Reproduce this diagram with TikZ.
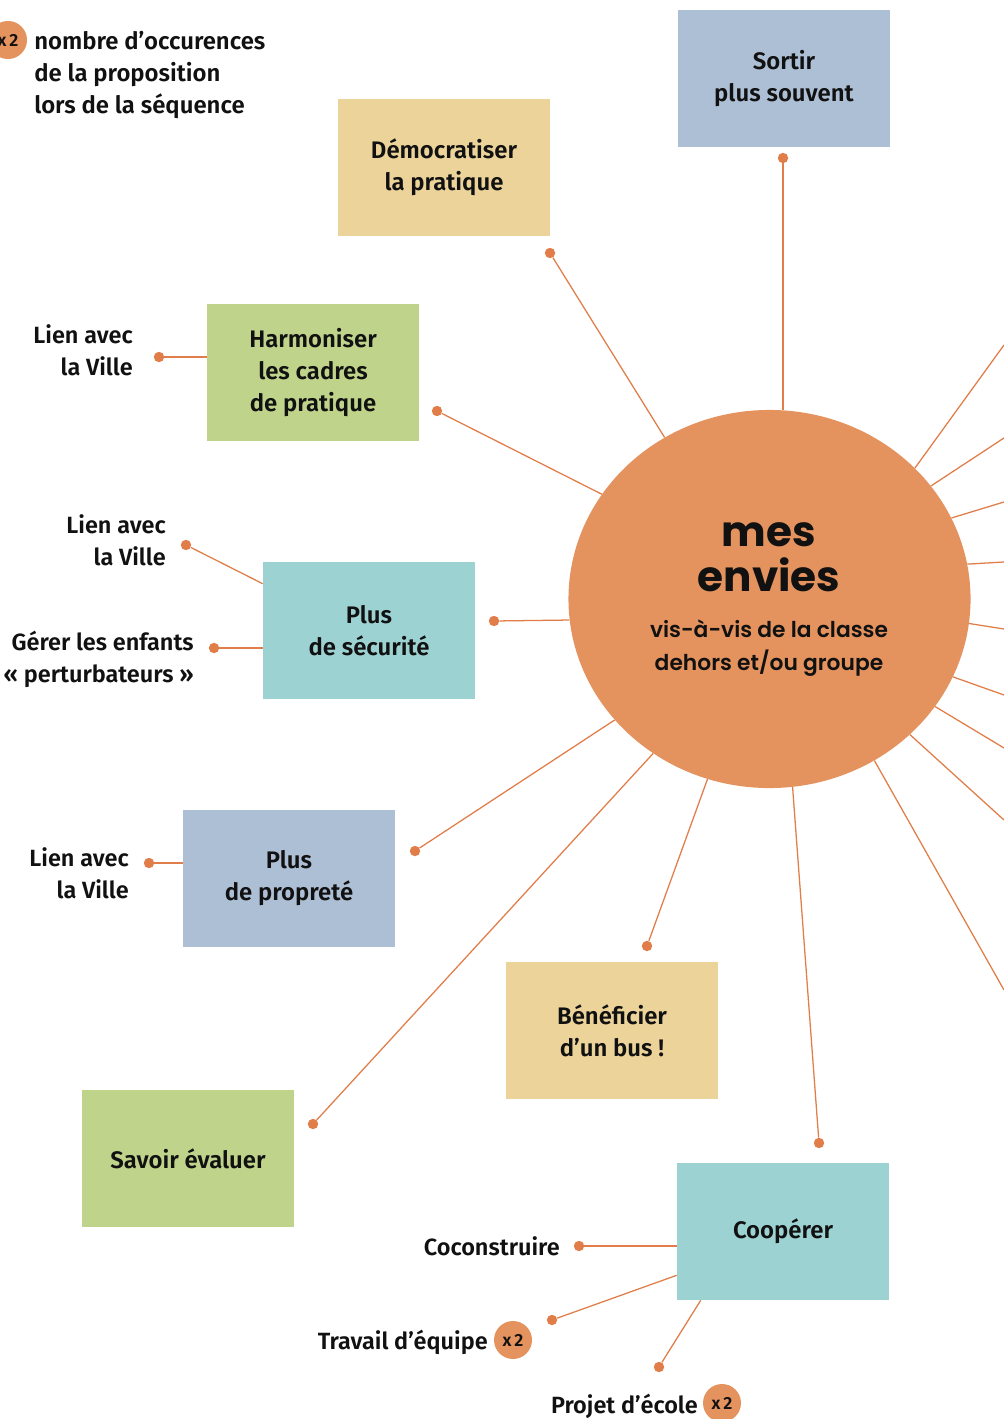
\documentclass[tikz,border=0pt]{standalone}
\usepackage{fontspec}
\setmainfont{Fira Sans SemiBold}
\newfontfamily\titlefont{Poppins}
\newfontfamily\subfont{Poppins SemiBold}
\usepackage{tikz}
\usetikzlibrary{shapes.geometric}
\definecolor{orangeC}{HTML}{E4935F}
\definecolor{lineC}{HTML}{E07D48}
\definecolor{blueB}{HTML}{ADBFD5}
\definecolor{yellowB}{HTML}{EBD39A}
\definecolor{greenB}{HTML}{BFD48A}
\definecolor{tealB}{HTML}{9DD2D3}
\definecolor{ink}{HTML}{111111}

\begin{document}
\begin{tikzpicture}[x=0.025cm,y=-0.025cm,text=ink]
\tikzstyle{envie}=[rectangle,minimum width=5.3cm,minimum height=3.425cm,align=center,inner sep=0,font=\fontsize{17}{22.8}\selectfont]
\tikzstyle{dot}=[circle,fill=lineC,minimum size=0.26cm,inner sep=0]
\tikzstyle{badge}=[circle,fill=orangeC,minimum size=0.95cm,inner sep=0,font=\fontsize{12.5}{13}\selectfont]
\tikzstyle{lbl}=[align=right,inner sep=0,font=\fontsize{16.7}{22.8}\selectfont]
\tikzstyle{link}=[draw=lineC,line width=0.9pt]
\useasboundingbox (0,0) rectangle (1004,1419);
% centre
\node[ellipse,fill=orangeC,minimum width=10.05cm,minimum height=9.45cm,inner sep=0] (mes) at (769.5,599) {};
\node[align=center,inner sep=0,font=\titlefont\bfseries\fontsize{30}{32}\selectfont] (titre) at (769,557) {mes\\envies};
\node[align=center,inner sep=0,font=\subfont\fontsize{15.5}{23.5}\selectfont] (sous) at (769,648) {vis-à-vis de la classe\\dehors et/ou groupe};
% legende
\node[badge] (leg) at (8,40) {x\,2};
\node[align=left,inner sep=0,anchor=west,font=\fontsize{17}{22.8}\selectfont] (legtxt) at (34,75) {nombre d’occurences\\de la proposition\\lors de la séquence};
% envies
\node[envie,fill=blueB] (sortir) at (784,78.5) {Sortir\\plus souvent};
\node[envie,fill=yellowB] (demo) at (444,167.5) {Démocratiser\\la pratique};
\node[envie,fill=greenB] (harm) at (313,372.5) {Harmoniser\\les cadres\\de pratique};
\node[envie,fill=tealB] (secu) at (369,630.5) {Plus\\de sécurité};
\node[envie,fill=blueB] (prop) at (289,878.5) {Plus\\de propreté};
\node[envie,fill=greenB] (eval) at (188,1158.5) {Savoir évaluer};
\node[envie,fill=yellowB] (bus) at (612,1030.5) {Bénéficier\\d’un bus !};
\node[envie,fill=tealB] (coop) at (783,1231.5) {Coopérer};
% points
\node[dot] (d1) at (783,158) {};
\node[dot] (d2) at (550,253) {};
\node[dot] (d3) at (437,411) {};
\node[dot] (d4) at (494,621) {};
\node[dot] (d5) at (415,851) {};
\node[dot] (d6) at (313,1124) {};
\node[dot] (d7) at (647,946) {};
\node[dot] (d8) at (819,1143) {};
\draw[link] (d1) -- (d1 |- mes.north);
\draw[link] (d2) -- (mes.123);
\draw[link] (d3) -- (mes.148.5);
\draw[link] (d4) -- (mes.186.3);
\draw[link] (d5) -- (mes.218.9);
\draw[link] (d6) -- (mes.233.7);
\draw[link] (d7) -- (mes.251.8);
\draw[link] (d8) -- (mes.277.4);
% rayons vers la droite
\coordinate (r1) at (1004,345);
\coordinate (r2) at (1004,438);
\coordinate (r3) at (1004,502);
\coordinate (r4) at (1004,562);
\coordinate (r5) at (1004,629);
\coordinate (r6) at (1004,695);
\coordinate (r7) at (1004,748);
\coordinate (r8) at (1004,820);
\coordinate (r9) at (1004,990);
\foreach \a/\r in {42.6/1,35.6/2,24.5/3,10.6/4,-7.1/5,-23.3/6,-33.8/7,-44.1/8,-57.1/9}
  \draw[link] (mes.\a) -- (r\r);
% sous-propositions
\node[lbl,anchor=east] (ville1) at (133,350) {Lien avec\\la Ville};
\node[dot] (e1) at (159,357) {};
\draw[link] (e1) -- (e1 -| harm.west);
\node[lbl,anchor=east] (ville2) at (166,540) {Lien avec\\la Ville};
\node[dot] (e2) at (186,545) {};
\draw[link] (e2) -- ([yshift=-0.55cm]secu.north west);
\node[lbl,anchor=east] (pertu) at (194,659) {Gérer les enfants\\« perturbateurs »};
\node[dot] (e3) at (214,648) {};
\draw[link] (e3) -- (e3 -| secu.west);
\node[lbl,anchor=east] (ville3) at (129,873) {Lien avec\\la Ville};
\node[dot] (e4) at (149,863) {};
\draw[link] (e4) -- (e4 -| prop.west);
\node[lbl,anchor=east] (cocons) at (560,1246) {Coconstruire};
\node[dot] (e5) at (579,1246) {};
\draw[link] (e5) -- (e5 -| coop.west);
\node[lbl,anchor=east] (equipe) at (488,1342) {Travail d’équipe};
\node[badge] (b1) at (513,1340) {x\,2};
\node[dot] (e6) at (552,1320) {};
\draw[link] (e6) -- ([yshift=0.625cm]coop.south west);
\node[lbl,anchor=east] (projet) at (698,1406) {Projet d’école};
\node[badge] (b2) at (722,1403) {x\,2};
\node[dot] (e7) at (659,1367) {};
\draw[link] (e7) -- ([xshift=0.6cm]coop.south west);
\end{tikzpicture}
\end{document}
